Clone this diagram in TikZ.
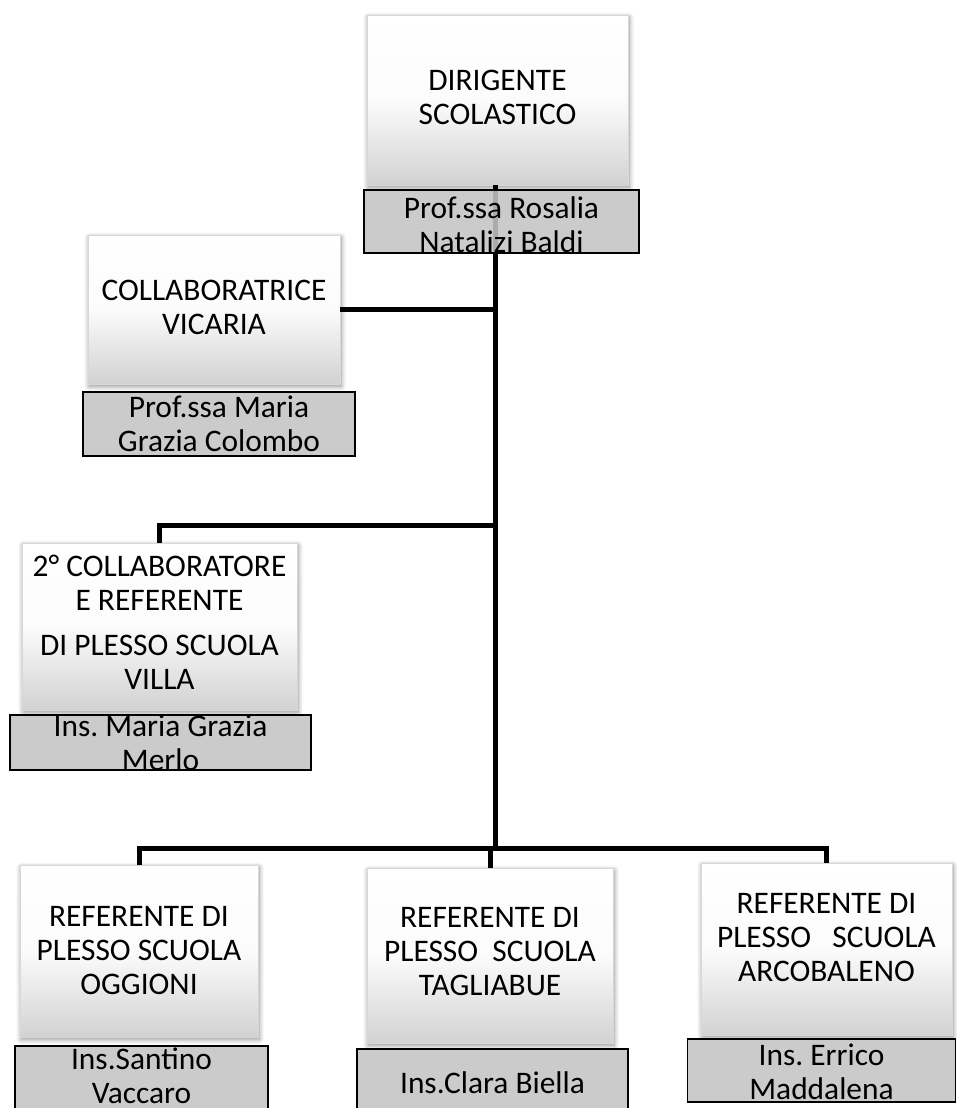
\documentclass[tikz,border=0pt]{standalone}
\usepackage{fontspec}
\setmainfont{Carlito}
\usetikzlibrary{shadows.blur}
\frenchspacing
\definecolor{namegray}{RGB}{196,196,196}
\definecolor{boxedge}{RGB}{215,215,215}
\definecolor{boxbottom}{RGB}{210,210,210}
\tikzset{
  rolebox/.style={rectangle, draw=boxedge, line width=0.4pt, top color=white, bottom color=boxbottom, middle color=white!92!boxbottom,
    blur shadow={shadow blur steps=6, shadow xshift=0.6pt, shadow yshift=-1.2pt, shadow blur radius=2.5pt, shadow opacity=45},
    inner sep=0pt},
  namebox/.style={rectangle, draw=black, line width=0.8pt, fill=namegray, fill opacity=0.88, inner sep=0pt},
  txt/.style={align=center, inner sep=0pt, font=\fontsize{15.7pt}{17pt}\selectfont, text=black},
  link/.style={draw=black, line width=2.5pt},
}
\begin{document}
\begin{tikzpicture}[x=0.5pt,y=-0.5pt]
\path[use as bounding box] (0,0) rectangle (957,1108);
\clip (0,0) rectangle (957,1108);

% junction points on the trunk
\coordinate (j1) at (495,310);
\coordinate (j2) at (495,525);
\coordinate (j3) at (495,848);

% role boxes
\node[rolebox, minimum width=130.5pt, minimum height=85pt] (D) at (497.5,100) {};
\node[rolebox, minimum width=126pt, minimum height=74.5pt] (C) at (214,309.5) {};
\node[rolebox, minimum width=137.5pt, minimum height=83.5pt] (S) at (159.5,626.5) {};
\node[rolebox, minimum width=119pt, minimum height=86pt] (O) at (139,951) {};
\node[rolebox, minimum width=123pt, minimum height=87.5pt] (T) at (490,955.5) {};
\node[rolebox, minimum width=125.5pt, minimum height=86pt] (A) at (826.5,949) {};

% connectors
\draw[link] (D.south -| j1) -- (j3);
\draw[link] (C.east) -- (C.east -| j1);
\draw[link] (j2) -- (j2 -| S.north) -- (S.north);
\draw[link] (O.north) -- (O.north |- j3) -- (A.north |- j3) -- (A.north);
\draw[link] (T.north) -- (T.north |- j3);

% name boxes
\node[namebox, minimum width=137.5pt, minimum height=31.5pt] (Dn) at (501.5,221.5) {};
\node[namebox, minimum width=136pt, minimum height=32pt] (Cn) at (219,424) {};
\node[namebox, minimum width=150.5pt, minimum height=27.5pt] (Sn) at (160.5,742.5) {};
\node[namebox, minimum width=126.5pt, minimum height=33pt] (On) at (141.5,1079) {};
\node[namebox, minimum width=135.5pt, minimum height=31.5pt] (Tn) at (492.5,1080.5) {};
\node[namebox, minimum width=134pt, minimum height=31.5pt] (An) at (821.5,1070.5) {};

% texts
\node[txt] (Dt) at (497.5,97) {DIRIGENTE\\SCOLASTICO};
\node[txt] (Dnt) at (501.5,225) {Prof.ssa Rosalia\\Natalizi Baldi};
\node[txt] (Ct) at (214,307) {COLLABORATRICE\\VICARIA};
\node[txt] (Cnt) at (219,424) {Prof.ssa Maria\\Grazia Colombo};
\node[txt] (St) at (159.5,622) {2° COLLABORATORE\\E REFERENTE\\[5.5pt] DI PLESSO SCUOLA\\VILLA};
\node[txt] (Snt) at (160.5,743) {Ins. Maria Grazia\\Merlo};
\node[txt] (Ot) at (139,951) {REFERENTE DI\\PLESSO SCUOLA\\OGGIONI};
\node[txt] (Ont) at (141.5,1076) {Ins.Santino\\Vaccaro};
\node[txt] (Tt) at (490,952) {REFERENTE DI\\PLESSO\ \ SCUOLA\\TAGLIABUE};
\node[txt] (Tnt) at (492.5,1083) {Ins.Clara Biella};
\node[txt] (At) at (826.5,938) {REFERENTE DI\\PLESSO\ \ \ SCUOLA\\ARCOBALENO};
\node[txt] (Ant) at (821.5,1072) {Ins. Errico\\Maddalena};
\end{tikzpicture}
\end{document}
